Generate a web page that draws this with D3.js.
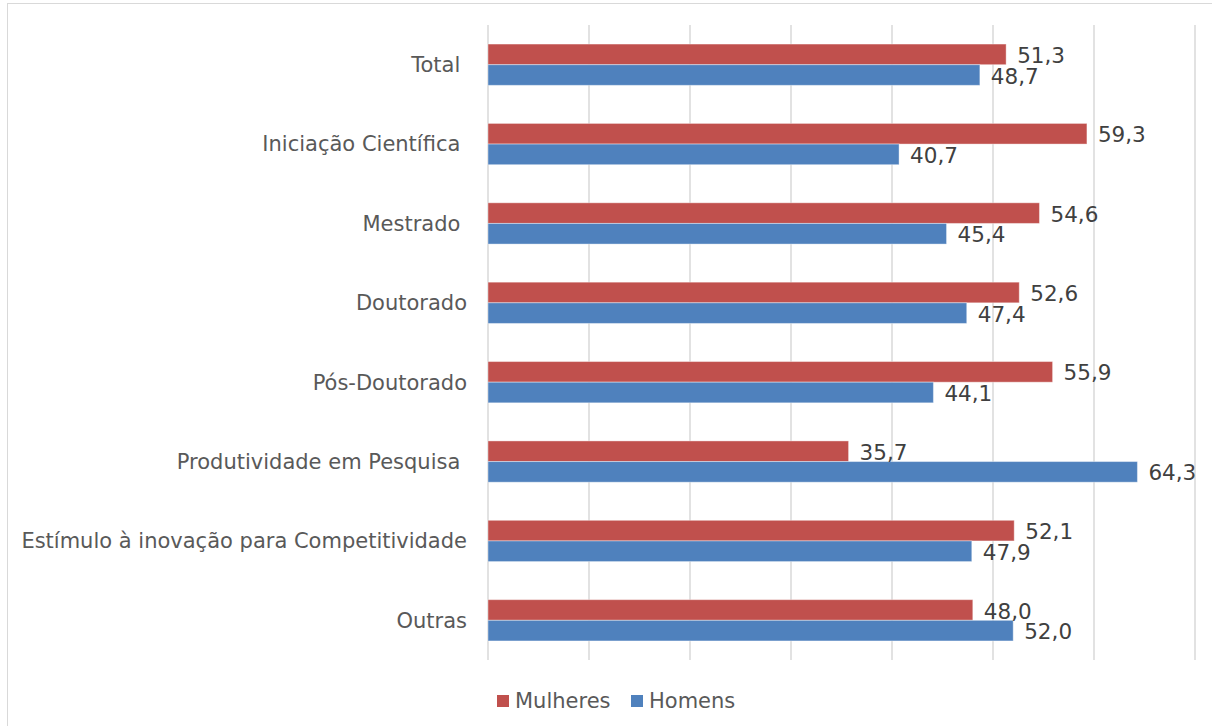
<!DOCTYPE html>
<html>
<head>
<meta charset="utf-8">
<script src="https://cdn.jsdelivr.net/npm/d3@7/dist/d3.min.js"></script>
<style>
    body { margin: 0; background: #fff; }
    svg { display: block; font-family: "DejaVu Sans", Verdana, sans-serif; }
    .cat { font-size: 21px; fill: #595959; white-space: pre; }
    .val { font-size: 21.5px; fill: #404040; }
    .leg { font-size: 21px; fill: #595959; }
    .grid line { stroke: #d9d9d9; stroke-width: 1.5px; }
</style>
</head>
<body>
<svg width="1212" height="726"></svg>
<script>
    // data
    var categories = ["Total ", "Iniciação Científica ", "Mestrado ", "Doutorado", "Pós-Doutorado",
        "Produtividade em Pesquisa ", "Estímulo à inovação para Competitividade", "Outras"];
    var mulheres = [51.3, 59.3, 54.6, 52.6, 55.9, 35.7, 52.1, 48.0];
    var homens = [48.7, 40.7, 45.4, 47.4, 44.1, 64.3, 47.9, 52.0];
    var seriesNames = ["Mulheres", "Homens"];
    var colors = ["#c0504d", "#4f81bd"];
    var xTicks = [0, 10, 20, 30, 40, 50, 60, 70];

    var svg = d3.select("svg");

    // outer chart border
    svg.append("rect")
        .attr("x", 7.5).attr("y", 3.5)
        .attr("width", 1220).attr("height", 740)
        .attr("fill", "none").attr("stroke", "#d9d9d9").attr("stroke-width", 1);

    var x = d3.scaleLinear().domain([0, 70]).range([488, 1195]);
    var y = d3.scaleBand().domain(categories).range([25, 660]).paddingInner(0.48).paddingOuter(0.24);
    var sub = d3.scaleBand().domain(seriesNames).range([0, y.bandwidth()]);

    svg.append("g").attr("class", "grid")
        .selectAll("line").data(xTicks).enter().append("line")
        .attr("x1", function(d) { return x(d); })
        .attr("x2", function(d) { return x(d); })
        .attr("y1", 25).attr("y2", 660);

    var rows = categories.map(function(c, i) {
        return { cat: c, vals: [mulheres[i], homens[i]] };
    });

    var grp = svg.selectAll(".row").data(rows).enter().append("g")
        .attr("class", "row")
        .attr("transform", function(d) { return "translate(0," + y(d.cat) + ")"; });

    grp.selectAll("rect").data(function(d) { return d.vals; }).enter().append("rect")
        .attr("x", x(0))
        .attr("y", function(d, i) { return sub(seriesNames[i]); })
        .attr("width", function(d) { return x(d) - x(0); })
        .attr("height", sub.bandwidth())
        .attr("fill", function(d, i) { return colors[i]; })
        .attr("stroke", "#fff").attr("stroke-opacity", 0.4).attr("stroke-width", 1);

    grp.selectAll("text.val").data(function(d) { return d.vals; }).enter().append("text")
        .attr("class", "val")
        .attr("x", function(d) { return x(d) + 11; })
        .attr("y", function(d, i) { return sub(seriesNames[i]) + sub.bandwidth() / 2 + 1; })
        .attr("dy", "0.35em")
        .text(function(d) { return d.toFixed(1).replace(".", ","); });

    svg.selectAll("text.cat").data(categories).enter().append("text")
        .attr("class", "cat")
        .attr("x", 467)
        .attr("y", function(d) { return y(d) + y.bandwidth() / 2; })
        .attr("dy", "0.35em")
        .attr("text-anchor", "end")
        .text(function(d) { return d; });

    // legend
    var legX = [497, 631];
    var leg = svg.selectAll(".legitem").data(seriesNames).enter().append("g")
        .attr("transform", function(d, i) { return "translate(" + legX[i] + ",701)"; });
    leg.append("rect").attr("x", 0).attr("y", -6).attr("width", 12).attr("height", 12)
        .attr("fill", function(d, i) { return colors[i]; });
    leg.append("text").attr("class", "leg").attr("x", 18).attr("dy", "0.35em")
        .text(function(d) { return d; });
</script>
</body>
</html>
